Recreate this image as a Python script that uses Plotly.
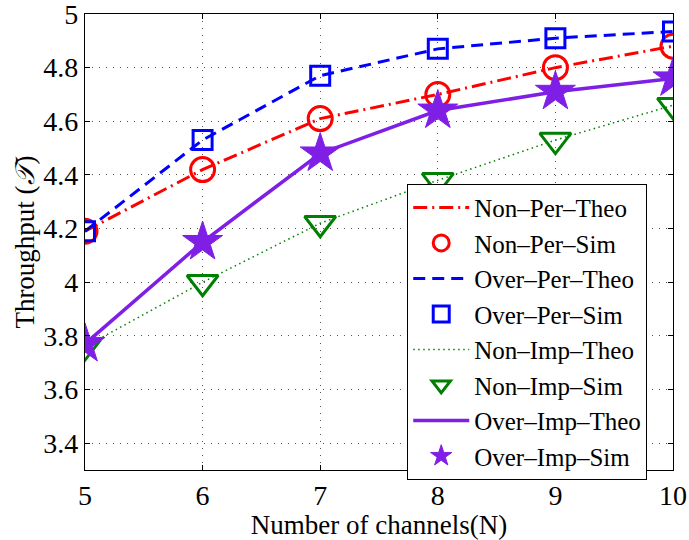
import plotly.graph_objects as go

channels = [5, 6, 7, 8, 9, 10]
non_per = [4.19, 4.42, 4.61, 4.70, 4.80, 4.88]
over_per = [4.19, 4.53, 4.77, 4.87, 4.91, 4.935]
non_imp = [3.76, 4.00, 4.22, 4.38, 4.53, 4.66]
over_imp = [3.77, 4.15, 4.48, 4.64, 4.71, 4.76]
y_ticks = [3.4, 3.6, 3.8, 4.0, 4.2, 4.4, 4.6, 4.8, 5.0]
y_tick_labels = ["3.4", "3.6", "3.8", "4", "4.2", "4.4", "4.6", "4.8", "5"]

RED = "#FF0000"
BLUE = "#0000FF"
GREEN = "#008000"
PURPLE = "#7F1FE6"
FONT = "Liberation Serif"

fig = go.Figure()
fig.add_trace(go.Scatter(x=channels, y=non_per, mode="lines", name="Non\u2013Per\u2013Theo",
                         line=dict(color=RED, width=3, dash="14px,5px,2px,5px")))
fig.add_trace(go.Scatter(x=channels, y=non_per, mode="markers", name="Non\u2013Per\u2013Sim",
                         marker=dict(symbol="circle-open", size=24, color=RED, line=dict(width=3, color=RED))))
fig.add_trace(go.Scatter(x=channels, y=over_per, mode="lines", name="Over\u2013Per\u2013Theo",
                         line=dict(color=BLUE, width=3, dash="12px,7px")))
fig.add_trace(go.Scatter(x=channels, y=over_per, mode="markers", name="Over\u2013Per\u2013Sim",
                         marker=dict(symbol="square-open", size=19, color=BLUE, line=dict(width=3, color=BLUE))))
fig.add_trace(go.Scatter(x=channels, y=non_imp, mode="lines", name="Non\u2013Imp\u2013Theo",
                         line=dict(color=GREEN, width=1.5, dash="1.5px,3.5px")))
fig.add_trace(go.Scatter(x=channels, y=non_imp, mode="markers", name="Non\u2013Imp\u2013Sim",
                         marker=dict(symbol="triangle-down-open", size=27, color=GREEN, line=dict(width=3, color=GREEN))))
fig.add_trace(go.Scatter(x=channels, y=over_imp, mode="lines", name="Over\u2013Imp\u2013Theo",
                         line=dict(color=PURPLE, width=3.5)))
fig.add_trace(go.Scatter(x=channels, y=over_imp, mode="markers", name="Over\u2013Imp\u2013Sim",
                         marker=dict(symbol="star", size=30, color=PURPLE, line=dict(width=1, color=PURPLE))))

axis_common = dict(showline=True, linecolor="black", linewidth=1.2, mirror="ticks",
                   ticks="inside", ticklen=5, tickcolor="black", automargin=False,
                   ticklabeloverflow="allow",
                   showgrid=True, gridcolor="#555555", griddash="1px,6px", gridwidth=1,
                   zeroline=False, tickfont=dict(family=FONT, size=28, color="black"))

fig.update_xaxes(range=[5, 10], tickvals=channels, ticktext=[str(c) for c in channels],
                 title=dict(text="Number of channels(N)", font=dict(family=FONT, size=27, color="black"), standoff=0),
                 **axis_common)
fig.update_yaxes(range=[3.3, 5], tickvals=y_ticks, ticktext=y_tick_labels,
                 title=dict(text="Throughput (<i>\U0001D4AF</i>)", font=dict(family=FONT, size=27, color="black"), standoff=0),
                 **axis_common)

fig.update_layout(
    width=689, height=540,
    margin=dict(l=85, r=16, t=14, b=70),
    plot_bgcolor="white", paper_bgcolor="white",
    font=dict(family=FONT, color="black"),
    legend=dict(x=0.548, y=0.628, xanchor="left", yanchor="top",
                bgcolor="white", bordercolor="black", borderwidth=1,
                font=dict(family=FONT, size=25, color="black"),
                tracegroupgap=0, itemwidth=56),
    showlegend=True,
)

fig.write_html("out.html", config={"displayModeBar": False},
               post_script="document.body.style.margin='0';document.body.style.overflow='hidden';")
